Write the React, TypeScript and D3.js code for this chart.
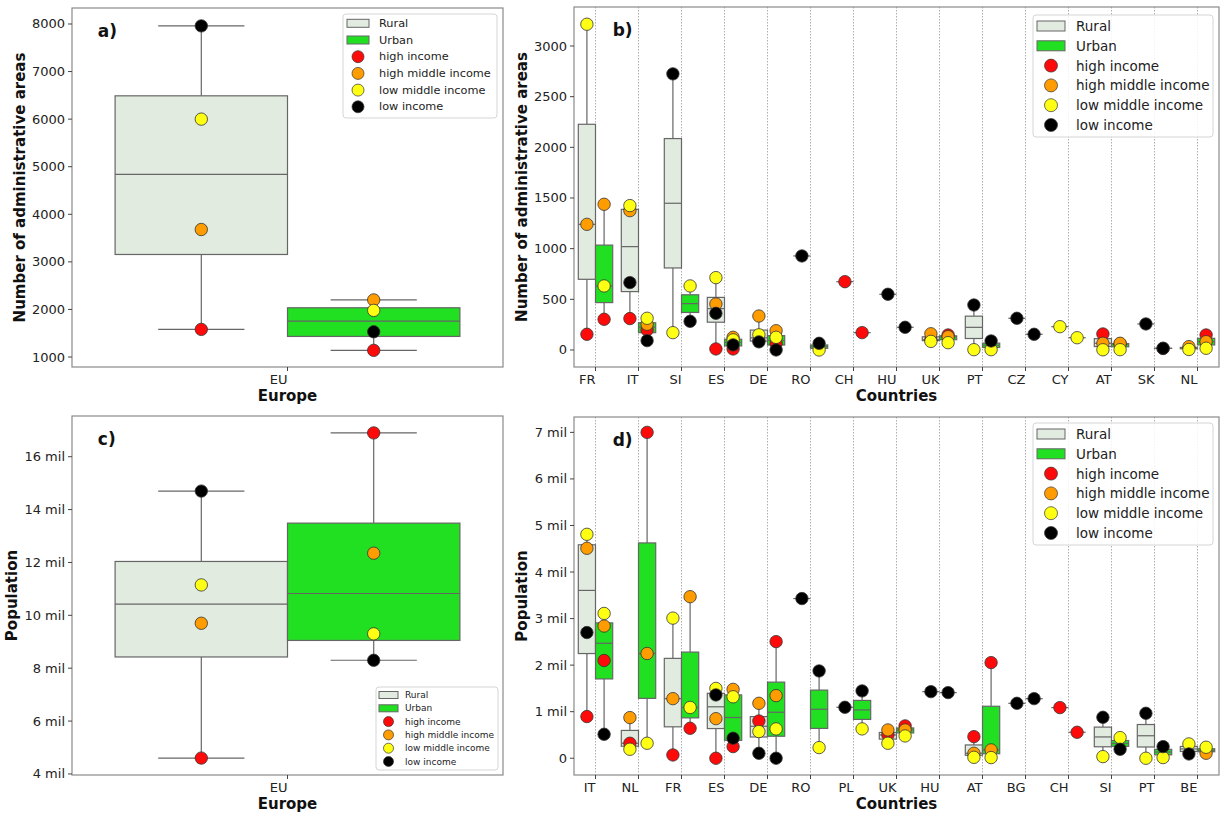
import React from 'react'
import * as d3 from 'd3'

// order of every income array: high, high middle, low middle, low
const incomes = ['high income', 'high middle income', 'low middle income', 'low income']
const incomeColors = ['#ff0a0a', '#ff9c00', '#ffff14', '#000000']
const ruralFill = '#e1ebdf'
const urbanFill = '#21df21'
const lineGray = '#666'

// a) administrative areas, Europe
const euCats = ['EU']
const areasEuRural = [[1580], [3680], [6000], [7960]]
const areasEuUrban = [[1140], [2200], [1980], [1530]]

// c) population (mil), Europe
const popEuRural = [[4.6], [9.7], [11.15], [14.7]]
const popEuUrban = [[16.9], [12.35], [9.3], [8.3]]

// b) administrative areas by country
const areaCountries = ['FR', 'IT', 'SI', 'ES', 'DE', 'RO', 'CH', 'HU', 'UK', 'PT', 'CZ', 'CY', 'AT', 'SK', 'NL']
const areasRuralHigh = [155, 310, null, 10, 90, null, 674, null, 100, null, null, null, 158, null, null]
const areasRuralHighMid = [1240, 1375, null, 454, 335, null, null, null, 160, null, null, null, 66, null, 33]
const areasRuralLowMid = [3215, 1425, 171, 714, 150, null, null, null, 85, 3, null, 230, 2, null, 5]
const areasRuralLow = [null, 665, 2725, 362, 80, 928, null, 550, null, 444, 313, null, null, 257, null]
const areasUrbanHigh = [303, 197, null, 10, 65, null, 171, null, 148, null, null, null, 60, 15, 148]
const areasUrbanHighMid = [1438, 254, null, 125, 190, null, null, null, 131, null, null, null, 66, null, 82]
const areasUrbanLowMid = [632, 313, 632, 100, 125, 0, null, null, 72, 3, null, 121, 3, null, 17]
const areasUrbanLow = [null, 92, 283, 50, 0, 66, null, 224, null, 89, 155, null, null, 17, null]

// d) population (mil) by country
const popCountries = ['IT', 'NL', 'FR', 'ES', 'DE', 'RO', 'PL', 'UK', 'HU', 'AT', 'BG', 'CH', 'SI', 'PT', 'BE']
const popRuralHigh = [0.895, 0.322, 0.07, 0.0, 0.8, null, null, 0.5, null, 0.464, null, 1.088, null, null, null]
const popRuralHighMid = [4.51, 0.873, 1.28, 0.85, 1.18, null, null, 0.608, null, 0.107, null, null, null, null, null]
const popRuralLowMid = [4.81, 0.193, 3.01, 1.5, 0.573, null, null, 0.322, null, 0.02, null, null, 0.035, 0.0, 0.307]
const popRuralLow = [2.7, null, null, 1.36, 0.107, 3.43, 1.095, null, 1.43, null, 1.18, null, 0.88, 0.966, 0.092]
const popUrbanHigh = [2.1, 7.0, 0.644, 0.25, 2.505, null, null, 0.694, null, 2.054, null, 0.558, null, null, null]
const popUrbanHighMid = [2.84, 2.25, 3.47, 1.48, 1.345, null, null, 0.608, null, 0.179, null, null, null, null, 0.107]
const popUrbanLowMid = [3.11, 0.322, 1.09, 1.32, 0.63, 0.229, 0.63, 0.479, null, 0.014, null, null, 0.443, 0.014, 0.236]
const popUrbanLow = [0.515, null, null, 0.43, 0.0, 1.875, 1.446, null, 1.41, null, 1.28, null, 0.193, 0.25, null]

const font = 'DejaVu Sans, sans-serif'

type Series = (number | null)[][]
type LegendSpec = { x: number; y: number; w: number; h: number; row0: number; step: number; patchX: number; patchW: number; patchH: number; r: number; textX: number; size: number }

function stats(vals: number[]) {
  const s = vals.slice().sort(d3.ascending)
  return {
    q1: d3.quantileSorted(s, 0.25)!,
    med: d3.quantileSorted(s, 0.5)!,
    q3: d3.quantileSorted(s, 0.75)!,
    lo: s[0],
    hi: s[s.length - 1],
  }
}

function Legend({ L }: { L: LegendSpec }) {
  const rows = ['Rural', 'Urban', ...incomes]
  return (
    <g fontFamily={font} fontSize={L.size} fill="#222">
      <rect x={L.x} y={L.y} width={L.w} height={L.h} rx={3} fill="#fff" fillOpacity={0.85} stroke="#d5d5d5" />
      {rows.map((t, i) => {
        const cy = L.row0 + i * L.step
        return (
          <g key={t}>
            {i < 2 ? (
              <rect x={L.patchX} y={cy - L.patchH / 2} width={L.patchW} height={L.patchH} fill={i === 0 ? ruralFill : urbanFill} stroke={lineGray} strokeWidth={1} />
            ) : (
              <circle cx={L.patchX + L.patchW / 2} cy={cy} r={L.r} fill={incomeColors[i - 2]} stroke="#333" strokeWidth={0.7} />
            )}
            <text x={L.textX} y={cy} dominantBaseline="central">{t}</text>
          </g>
        )
      })}
    </g>
  )
}

function Panel(p: {
  x0: number; x1: number; y0: number; y1: number; cats: string[]
  rural: Series; urban: Series; yDomain: [number, number]; yTicks: number[]; fmt: (v: number) => string
  ylabel: string; ylabelX: number; xlabel: string; tag: string; grid: boolean; legend: LegendSpec
}) {
  const x = d3.scaleBand().domain(p.cats).range([p.x0, p.x1]).padding(0)
  const y = d3.scaleLinear().domain(p.yDomain).range([p.y1, p.y0])
  const bw = x.bandwidth() * 0.4
  const groups = [
    { data: p.rural, fill: ruralFill, off: -bw / 2 },
    { data: p.urban, fill: urbanFill, off: bw / 2 },
  ]
  const xc = (c: string) => x(c)! + x.bandwidth() / 2
  return (
    <g>
      {p.grid && p.cats.map(c => (
        <line key={c} x1={xc(c)} x2={xc(c)} y1={p.y0} y2={p.y1} stroke="#999" strokeWidth={0.8} strokeDasharray="1.5,1.5" />
      ))}
      {groups.map((g, gi) => p.cats.map((c, ci) => {
        const vals = g.data.map(arr => arr[ci]).filter(v => v !== null && v !== undefined) as number[]
        if (!vals.length) return null
        const st = stats(vals)
        const cx = xc(c) + g.off
        return (
          <g key={gi + c} stroke={lineGray} strokeWidth={1.2}>
            <line x1={cx} x2={cx} y1={y(st.hi)} y2={y(st.q3)} />
            <line x1={cx} x2={cx} y1={y(st.lo)} y2={y(st.q1)} />
            <line x1={cx - bw / 4} x2={cx + bw / 4} y1={y(st.hi)} y2={y(st.hi)} />
            <line x1={cx - bw / 4} x2={cx + bw / 4} y1={y(st.lo)} y2={y(st.lo)} />
            <rect x={cx - bw / 2} width={bw} y={y(st.q3)} height={Math.max(0, y(st.q1) - y(st.q3))} fill={g.fill} />
            <line x1={cx - bw / 2} x2={cx + bw / 2} y1={y(st.med)} y2={y(st.med)} />
          </g>
        )
      }))}
      {incomes.map((inc, ii) => groups.map((g, gi) => p.cats.map((c, ci) => {
        const v = g.data[ii][ci]
        if (v === null || v === undefined) return null
        return <circle key={inc + gi + c} cx={xc(c) + g.off} cy={y(v)} r={6.2} fill={incomeColors[ii]} stroke="#333" strokeWidth={0.8} />
      })))}
      <rect x={p.x0} y={p.y0} width={p.x1 - p.x0} height={p.y1 - p.y0} fill="none" stroke="#8a8a8a" strokeWidth={1.2} />
      <g fontFamily={font} fontSize={13} fill="#222">
        {p.yTicks.map(t => (
          <g key={t}>
            <line x1={p.x0 - 4} x2={p.x0} y1={y(t)} y2={y(t)} stroke="#444" />
            <text x={p.x0 - 7} y={y(t)} textAnchor="end" dominantBaseline="central">{p.fmt(t)}</text>
          </g>
        ))}
        {p.cats.map(c => (
          <g key={c}>
            <line x1={xc(c)} x2={xc(c)} y1={p.y1} y2={p.y1 + 4} stroke="#444" />
            <text x={xc(c)} y={p.y1 + 17} textAnchor="end">{c}</text>
          </g>
        ))}
      </g>
      <g fontFamily={font} fontSize={15} fontWeight="bold" fill="#111">
        <text x={(p.x0 + p.x1) / 2} y={p.y1 + 34} textAnchor="middle">{p.xlabel}</text>
        <text transform={`translate(${p.ylabelX},${(p.y0 + p.y1) / 2}) rotate(-90)`} textAnchor="middle" dominantBaseline="central">{p.ylabel}</text>
        <text x={p.x0 + 0.06 * (p.x1 - p.x0)} y={p.y0 + 29} fontSize={17}>{p.tag}</text>
      </g>
      <Legend L={p.legend} />
    </g>
  )
}

const bigLegend = (top: number): LegendSpec => ({ x: 1033, y: top, w: 180, h: 122, row0: top + 11, step: 19.8, patchX: 1037, patchW: 28, patchH: 10, r: 6.5, textX: 1076, size: 13.5 })

export default function App() {
  const mil = (v: number) => `${v} mil`
  return (
    <svg width={1224} height={817} style={{ position: 'absolute', left: 0, top: 0, background: '#fff' }}>
      <Panel x0={72} x1={503} y0={8} y1={367} cats={euCats} rural={areasEuRural} urban={areasEuUrban}
        yDomain={[790, 8336]} yTicks={d3.range(1000, 8001, 1000)} fmt={v => String(v)}
        ylabel="Number of administrative areas" ylabelX={20} xlabel="Europe" tag="a)" grid={false}
        legend={{ x: 343, y: 14, w: 154, h: 104, row0: 23.3, step: 16.7, patchX: 347, patchW: 22, patchH: 8, r: 6, textX: 379, size: 11.3 }} />
      <Panel x0={574} x1={1219} y0={7} y1={367} cats={areaCountries}
        rural={[areasRuralHigh, areasRuralHighMid, areasRuralLowMid, areasRuralLow]}
        urban={[areasUrbanHigh, areasUrbanHighMid, areasUrbanLowMid, areasUrbanLow]}
        yDomain={[-168, 3385]} yTicks={d3.range(0, 3001, 500)} fmt={v => String(v)}
        ylabel="Number of administrative areas" ylabelX={522} xlabel="Countries" tag="b)" grid={true}
        legend={bigLegend(15)} />
      <Panel x0={72} x1={503} y0={416} y1={775} cats={euCats} rural={popEuRural} urban={popEuUrban}
        yDomain={[3.96, 17.54]} yTicks={d3.range(4, 17, 2)} fmt={mil}
        ylabel="Population" ylabelX={12} xlabel="Europe" tag="c)" grid={false}
        legend={{ x: 376, y: 687, w: 122, h: 83, row0: 695, step: 13.3, patchX: 379, patchW: 19, patchH: 7, r: 5, textX: 405, size: 9 }} />
      <Panel x0={574} x1={1219} y0={417} y1={775} cats={popCountries}
        rural={[popRuralHigh, popRuralHighMid, popRuralLowMid, popRuralLow]}
        urban={[popUrbanHigh, popUrbanHighMid, popUrbanLowMid, popUrbanLow]}
        yDomain={[-0.36, 7.33]} yTicks={d3.range(0, 8)} fmt={v => (v === 0 ? '0' : mil(v))}
        ylabel="Population" ylabelX={522} xlabel="Countries" tag="d)" grid={true}
        legend={bigLegend(423)} />
    </svg>
  )
}
